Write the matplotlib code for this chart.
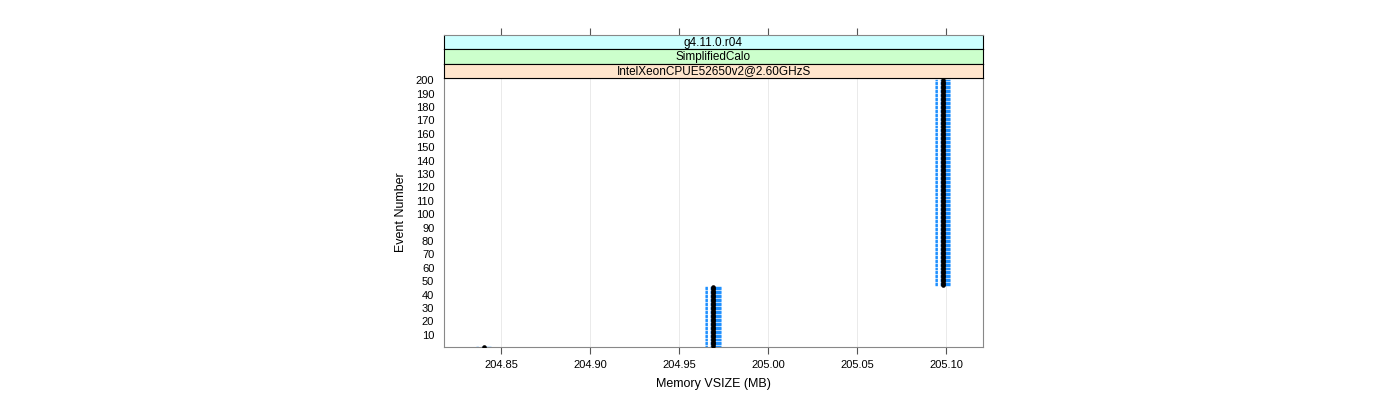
import numpy as np
import matplotlib
matplotlib.use('Agg')
import matplotlib.pyplot as plt

plt.rcParams['font.family'] = ['Liberation Sans', 'DejaVu Sans']

# memory per event: first event, then two plateaus
levels = [204.8400, 204.969, 205.098]
counts = [1, 45, 155]
events = np.arange(1, 201)
vsize = np.repeat(levels, counts)[:200]

strip_labels = ['g4.11.0.r04', 'SimplifiedCalo', 'IntelXeonCPUE52650v2@2.60GHzS']
strip_colors = ['#CCFFFF', '#CCFFCC', '#FFE5CC']

xticks = [204.85, 204.90, 204.95, 205.00, 205.05, 205.10]
xlim = (204.8178, 205.1206)
yticks = list(range(10, 201, 10))

W, H = 1400, 400
fig = plt.figure(figsize=(W / 100, H / 100), dpi=100)

def box(x0, y0, x1, y1):
    return [x0 / W, 1 - y1 / H, (x1 - x0) / W, (y1 - y0) / H]

ax = fig.add_axes(box(444, 78, 983, 347))
ax.set_xlim(*xlim)
ax.set_ylim(0.9, 201.7)

for xt in xticks:
    ax.axvline(xt, color='#E6E6E6', lw=0.6, zorder=0)

# blue per-event segments
half = 0.0043
ax.hlines(events, vsize - half, vsize + half, colors='#1E90FF', lw=1.0,
          linestyles=[(0, (1.7, 2.0, 60, 1))], zorder=2)
ax.plot(vsize, events, 'o', color='black', ms=3.3, mew=0, zorder=3)

ax.set_xticks(xticks)
ax.set_xticklabels(['%.2f' % v for v in xticks], fontsize=8)
ax.set_yticks(yticks)
ax.set_yticklabels([str(v) for v in yticks], fontsize=8)
ax.tick_params(axis='y', length=0, pad=7)
ax.tick_params(axis='x', length=5, pad=4, color='#555555')
for s in ax.spines.values():
    s.set_color('#888888')
ax.set_xlabel('Memory VSIZE (MB)', fontsize=9, labelpad=6)
ax.set_ylabel('Event Number', fontsize=9, labelpad=6)

# strips
tops = [35, 49.3, 63.6, 78]
for i, (lab, col) in enumerate(zip(strip_labels, strip_colors)):
    sax = fig.add_axes(box(444, tops[i], 983, tops[i + 1]))
    sax.set_facecolor(col)
    sax.set_xlim(*xlim)
    sax.set_ylim(0, 1)
    sax.set_yticks([])
    if i == 0:
        sax.xaxis.tick_top()
        sax.set_xticks(xticks)
        sax.set_xticklabels([])
        sax.tick_params(axis='x', length=5, color='#555555')
        sax.spines['top'].set_color('#888888')
    else:
        sax.set_xticks([])
    for s in sax.spines.values():
        s.set_linewidth(0.8)
    sax.text(0.5, 0.45, lab, transform=sax.transAxes, ha='center',
             va='center', fontsize=8.5)

fig.savefig('out.png', dpi=100)
